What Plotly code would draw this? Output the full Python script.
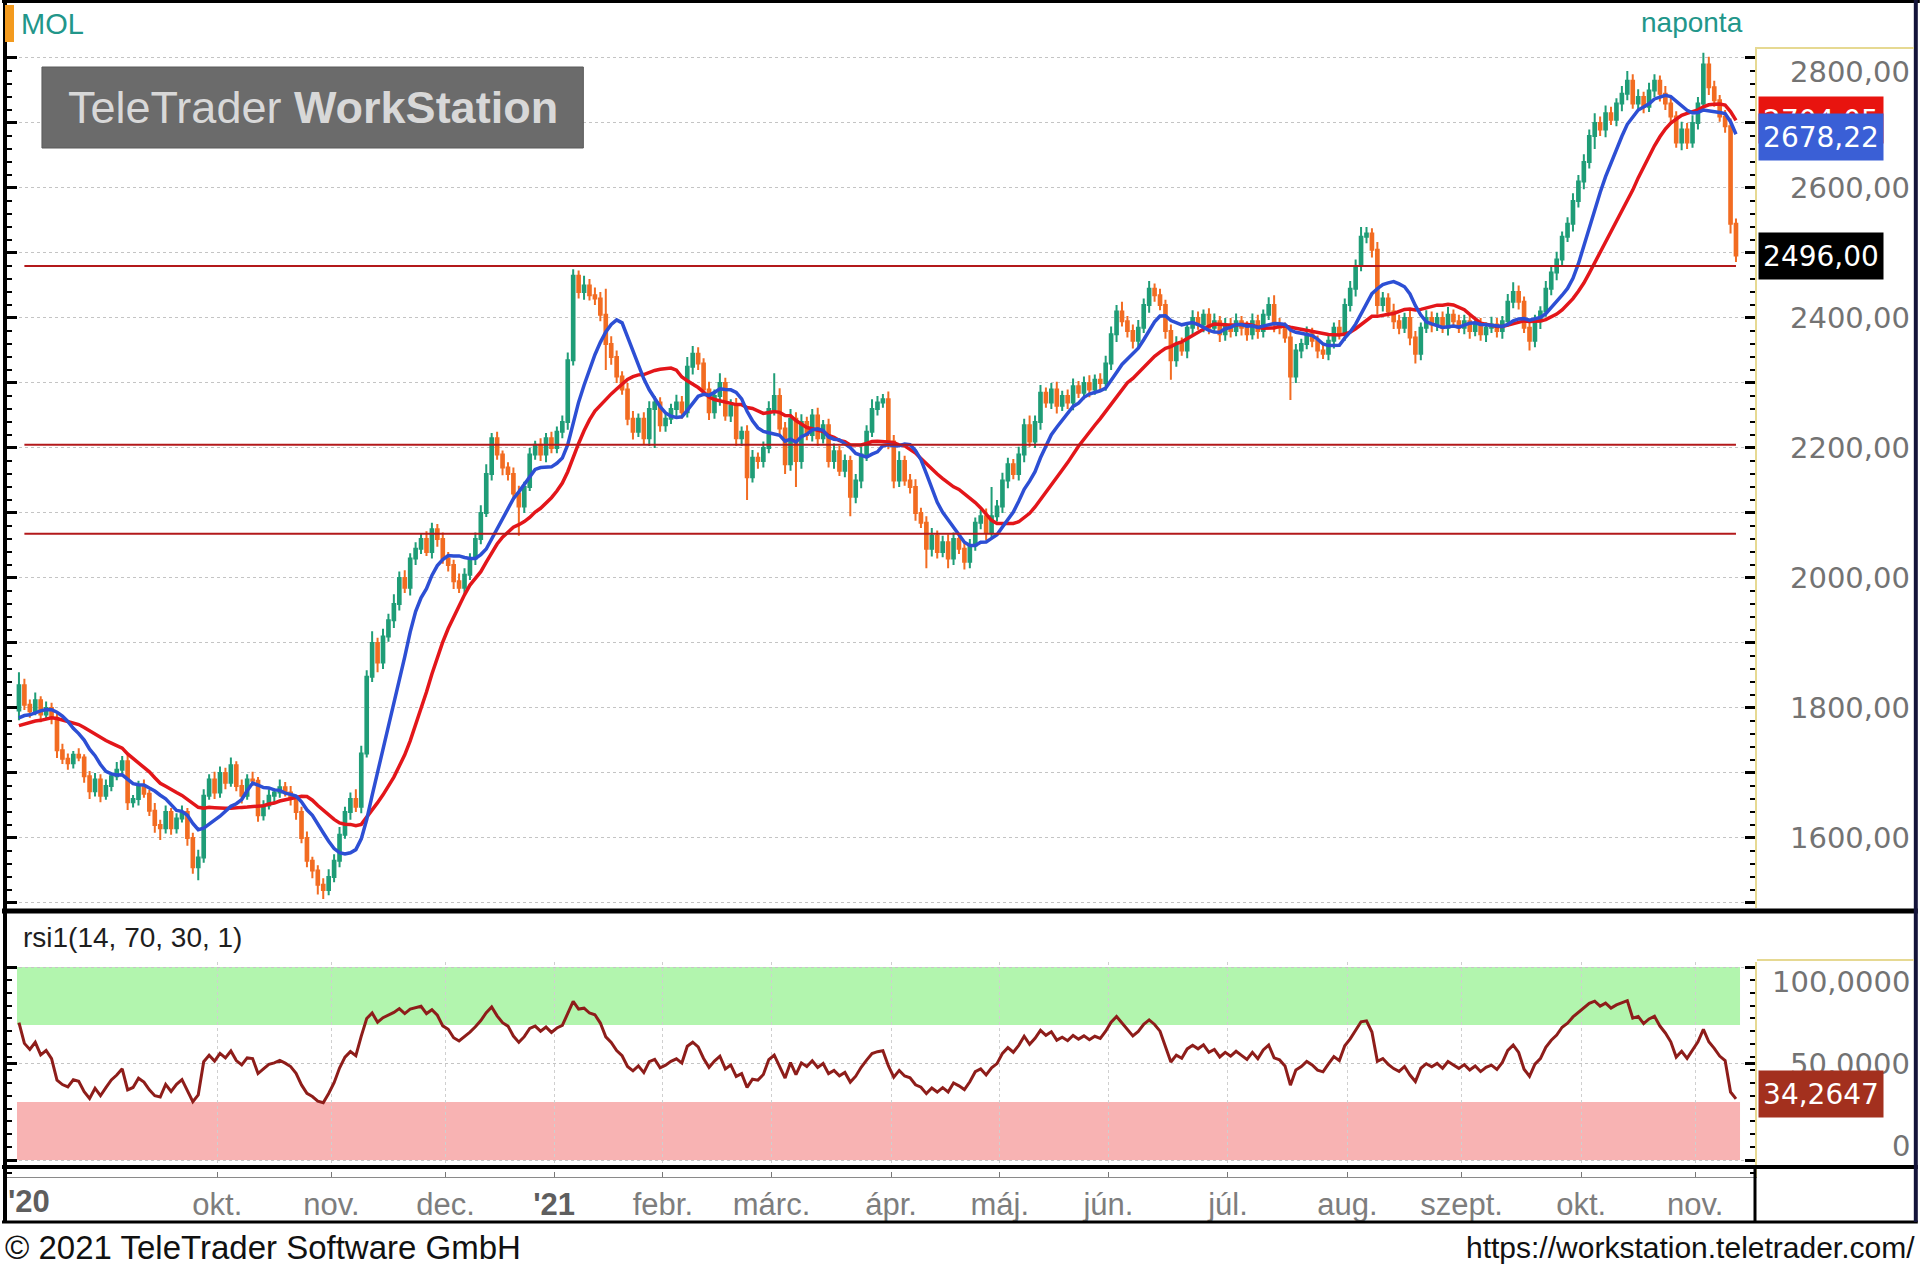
import numpy as np
import pandas as pd
import plotly.graph_objects as go

# ---------------- DATA ----------------
symbol = "MOL"
period_label = "naponta"
rsi_title = "rsi1(14, 70, 30, 1)"
start_date, end_date = "2020-08-10", "2021-11-11"
holidays = ["2020-08-20", "2020-10-23", "2020-12-24", "2020-12-25", "2020-12-31",
            "2021-01-01", "2021-03-15", "2021-04-02", "2021-04-05", "2021-05-24",
            "2021-08-20", "2021-11-01"]
first_labelled_month = "2020-10-01"
month_names = {2: "febr.", 3: "márc.", 4: "ápr.", 5: "máj.", 6: "jún.", 7: "júl.",
               8: "aug.", 9: "szept.", 10: "okt.", 11: "nov.", 12: "dec."}

# closes before the visible window (needed for moving averages / RSI warm-up)
pre_closes = [1745, 1758, 1750, 1762, 1771, 1760, 1748, 1755, 1768, 1776,
              1762, 1770, 1784, 1776, 1765, 1779, 1788, 1774, 1782, 1796]

close_aug20 = [1835, 1805, 1795, 1812, 1790, 1800, 1785, 1735, 1722, 1715, 1728, 1724, 1695, 1672, 1690]
close_sep20 = [1665, 1680, 1695, 1705, 1718, 1655, 1660, 1680, 1668, 1642, 1620, 1615, 1640, 1615, 1630,
               1640, 1600, 1555, 1570, 1665, 1690, 1670]
close_oct20 = [1700, 1685, 1712, 1680, 1665, 1690, 1688, 1635, 1650, 1665, 1670, 1678, 1670, 1660, 1640,
               1600, 1565, 1550, 1528, 1520, 1540]
close_nov20 = [1565, 1605, 1640, 1660, 1648, 1730, 1848, 1900, 1870, 1910, 1935, 1960, 2000, 1985, 2030,
               2045, 2060, 2040, 2075, 2060, 2030]
close_dec20 = [2020, 1995, 1985, 2005, 2030, 2060, 2100, 2160, 2215, 2190, 2170, 2160, 2130, 2110, 2140,
               2190, 2205, 2190, 2215, 2200]
close_jan21 = [2225, 2240, 2335, 2465, 2440, 2450, 2435, 2430, 2405, 2360, 2340, 2310, 2290, 2245, 2225,
               2245, 2215, 2260, 2270, 2235]
close_feb21 = [2245, 2260, 2270, 2255, 2325, 2345, 2330, 2290, 2255, 2280, 2300, 2250, 2265, 2215, 2225,
               2155, 2185, 2180, 2200, 2260]
close_mar21 = [2280, 2230, 2175, 2245, 2180, 2240, 2220, 2250, 2215, 2235, 2180, 2195, 2165, 2180, 2125,
               2150, 2190, 2225, 2260, 2270, 2275, 2210]
close_apr21 = [2150, 2180, 2150, 2140, 2100, 2085, 2045, 2065, 2040, 2055, 2030, 2060, 2045, 2025, 2050,
               2085, 2095, 2070, 2095, 2110]
close_may21 = [2150, 2175, 2160, 2190, 2235, 2210, 2240, 2285, 2270, 2290, 2265, 2280, 2270, 2295, 2285,
               2300, 2290, 2305, 2300, 2330]
close_jun21 = [2375, 2410, 2395, 2380, 2365, 2385, 2420, 2445, 2435, 2420, 2380, 2335, 2360, 2350, 2385,
               2400, 2390, 2405, 2385, 2395, 2375, 2390]
close_jul21 = [2380, 2395, 2385, 2375, 2395, 2380, 2405, 2420, 2390, 2385, 2370, 2310, 2350, 2360, 2375,
               2365, 2350, 2345, 2365, 2385, 2375, 2420]
close_aug21 = [2445, 2480, 2525, 2530, 2505, 2420, 2430, 2410, 2395, 2385, 2400, 2370, 2345, 2385, 2400,
               2390, 2400, 2385, 2405, 2395, 2385]
close_sep21 = [2395, 2380, 2390, 2375, 2385, 2390, 2380, 2395, 2425, 2440, 2425, 2385, 2365, 2395, 2410,
               2445, 2470, 2490, 2525, 2545, 2580, 2610]
close_oct21 = [2640, 2680, 2700, 2690, 2715, 2705, 2730, 2745, 2765, 2730, 2740, 2725, 2750, 2765, 2745,
               2730, 2710, 2670, 2690, 2670, 2700]
close_nov21 = [2730, 2790, 2755, 2735, 2710, 2695, 2545, 2496]

# wick lengths above / below the candle body
wick_up = [20, 10, 8, 12, 6, 10, 8, 6, 10, 8, 6, 10, 5, 8, 10,
           8, 10, 6, 12, 8, 10, 6, 8, 10, 6, 12, 8, 10, 6, 8, 10, 6, 8, 12, 10, 8, 12,
           10, 8, 12, 6, 10, 8, 12, 6, 8, 10, 6, 12, 8, 10, 6, 8, 10, 6, 8, 10, 12,
           10, 12, 8, 10, 15, 12, 10, 18, 8, 12, 10, 15, 10, 12, 8, 10, 8, 12, 10, 8, 10,
           10, 8, 12, 10, 8, 10, 12, 15, 8, 10, 6, 8, 10, 12, 8, 10, 6, 10, 8, 10,
           8, 10, 12, 10, 8, 15, 10, 12, 10, 40, 12, 10, 8, 10, 12, 8, 10, 12, 10, 8,
           10, 8, 12, 10, 15, 12, 10, 8, 12, 10, 15, 8, 10, 12, 8, 10, 12, 8, 10, 12,
           35, 12, 10, 15, 10, 12, 8, 10, 12, 8, 10, 12, 8, 10, 8, 10, 12, 10, 15, 10, 8, 12,
           10, 15, 8, 10, 12, 8, 10, 12, 8, 10, 12, 10, 8, 12, 10, 8, 10, 12, 45, 10,
           12, 10, 8, 12, 10, 15, 10, 12, 8, 10, 12, 8, 10, 12, 8, 10, 12, 8, 10, 12,
           12, 10, 15, 8, 10, 12, 10, 12, 8, 10, 8, 10, 12, 10, 8, 12, 10, 8, 10, 12, 8, 10,
           10, 12, 8, 10, 12, 10, 8, 12, 15, 10, 8, 12, 10, 8, 12, 10, 8, 12, 10, 8, 12, 10,
           12, 10, 15, 10, 8, 12, 10, 8, 12, 10, 8, 12, 10, 8, 12, 10, 8, 10, 12, 8, 10,
           10, 8, 12, 10, 8, 12, 10, 8, 12, 15, 10, 8, 12, 10, 8, 12, 10, 12, 8, 10, 12, 10,
           12, 10, 15, 10, 12, 10, 8, 12, 15, 10, 12, 8, 12, 10, 8, 12, 10, 8, 12, 10, 12,
           10, 18, 12, 10, 8, 10, 12, 8]
wick_dn = [15, 8, 10, 6, 12, 8, 10, 12, 8, 10, 8, 6, 10, 12, 8,
           10, 6, 8, 6, 10, 12, 8, 10, 6, 8, 12, 18, 8, 10, 8, 6, 12, 10, 20, 8, 6, 10,
           8, 10, 6, 8, 12, 6, 8, 10, 8, 6, 10, 8, 6, 10, 12, 8, 10, 12, 15, 14, 8,
           8, 10, 6, 12, 8, 10, 6, 8, 15, 10, 8, 12, 10, 8, 12, 10, 8, 6, 10, 12, 8,
           10, 12, 8, 10, 8, 10, 8, 6, 10, 8, 12, 10, 10, 45, 10, 6, 8, 10, 12, 8,
           8, 10, 12, 8, 10, 12, 8, 10, 10, 40, 12, 10, 8, 10, 12, 8, 10, 12, 60, 10,
           10, 8, 12, 10, 8, 12, 10, 8, 12, 10, 15, 8, 10, 12, 12, 35, 8, 12, 10, 8,
           10, 12, 15, 10, 40, 12, 8, 10, 12, 8, 10, 12, 8, 10, 30, 10, 12, 10, 8, 10, 8, 12,
           12, 10, 8, 10, 12, 8, 30, 12, 10, 8, 15, 10, 8, 12, 10, 8, 10, 12, 10, 8,
           10, 12, 8, 10, 12, 8, 10, 12, 8, 10, 12, 8, 10, 12, 8, 10, 12, 8, 10, 12,
           10, 12, 8, 10, 12, 10, 8, 12, 10, 8, 12, 30, 10, 8, 12, 10, 8, 12, 10, 8, 12, 10,
           10, 8, 12, 10, 8, 12, 10, 8, 12, 10, 8, 36, 10, 12, 8, 10, 12, 8, 10, 12, 8, 10,
           10, 12, 8, 10, 12, 15, 10, 8, 12, 10, 8, 12, 15, 10, 8, 12, 10, 8, 12, 10, 8,
           10, 12, 8, 10, 12, 8, 10, 12, 8, 10, 12, 8, 15, 10, 12, 8, 10, 12, 10, 8, 12, 10,
           12, 10, 20, 10, 12, 8, 10, 12, 10, 8, 12, 10, 8, 10, 12, 10, 10, 8, 12, 10, 8,
           10, 8, 12, 10, 8, 10, 15, 10]

level_lines = [2480, 2205, 2068]          # horizontal support / resistance lines
fast_ma_period, slow_ma_period = 10, 20
rsi_period, rsi_upper, rsi_lower = 14, 70, 30
fast_ma_label = 2678.22                   # value shown in blue box
rsi_last_label = 34.2647                  # value shown in RSI box
price_labels = [1600, 1800, 2000, 2200, 2400, 2600, 2800]
rsi_labels = [0, 50, 100]

# ---------------- PREP ----------------
closes = (close_aug20 + close_sep20 + close_oct20 + close_nov20 + close_dec20 + close_jan21 +
          close_feb21 + close_mar21 + close_apr21 + close_may21 + close_jun21 + close_jul21 +
          close_aug21 + close_sep21 + close_oct21 + close_nov21)
days = pd.bdate_range(start_date, end_date)
days = days[~days.isin(pd.to_datetime(holidays))]
N = len(days)
assert len(closes) == N == len(wick_up) == len(wick_dn), (len(closes), N, len(wick_up), len(wick_dn))

c = np.array(closes, float)
o = np.r_[pre_closes[-1], c[:-1]]
h = np.maximum(o, c) + np.array(wick_up)
l = np.minimum(o, c) - np.array(wick_dn)
x = np.arange(N)

allc = pd.Series(pre_closes + closes, dtype=float)
ma_fast = allc.rolling(fast_ma_period).mean().values[-N:]
ma_slow = allc.rolling(slow_ma_period).mean().values[-N:]


def wilder_rsi(vals, n):
    vals = np.asarray(vals, float)
    d = np.diff(vals)
    g = np.where(d > 0, d, 0.0)
    ls = np.where(d < 0, -d, 0.0)
    ag, al = g[:n].mean(), ls[:n].mean()
    out = np.full(len(vals), np.nan)
    out[n] = 100 - 100 / (1 + ag / al) if al > 0 else 100
    for k in range(n, len(d)):
        ag = (ag * (n - 1) + g[k]) / n
        al = (al * (n - 1) + ls[k]) / n
        out[k + 1] = 100 - 100 / (1 + ag / al) if al > 0 else 100
    return out


rsi = wilder_rsi(pre_closes + closes, rsi_period)[-N:]

# month ticks
tick_pos, tick_txt = [], []
for k in range(1, N):
    if days[k].month != days[k - 1].month and days[k] >= pd.Timestamp(first_labelled_month):
        tick_pos.append(k - 0.5)
        if days[k].month == 1:
            tick_txt.append("<b><span style='color:#5e5e5e'>'%02d</span></b>" % (days[k].year % 100))
        else:
            tick_txt.append(month_names[days[k].month])

# ---------------- GEOMETRY (pixels) ----------------
W, H = 1920, 1272
ML, MR, MT, MB = 5, 165, 47, 95
PW, PH = W - ML - MR, H - MT - MB


def px(X):
    return (X - ML) / PW


def py(Y):
    return (H - MB - Y) / PH


UP, DN = "#1f9d77", "#f26c22"
BLUE, RED = "#2d4fd4", "#e3161a"
GRAY_LBL = "#737373"
AXF = "DejaVu Sans"
TXF = "Liberation Sans, Arial, sans-serif"

fig = go.Figure()
fig.add_trace(go.Candlestick(
    x=x, open=o, high=h, low=l, close=c, xaxis="x2", yaxis="y",
    increasing=dict(line=dict(color=UP, width=2), fillcolor=UP),
    decreasing=dict(line=dict(color=DN, width=2), fillcolor=DN),
    whiskerwidth=0, showlegend=False, hoverinfo="skip"))
fig.add_trace(go.Scatter(x=x, y=ma_slow, xaxis="x2", yaxis="y", mode="lines",
                         line=dict(color=RED, width=3.5), showlegend=False, hoverinfo="skip"))
fig.add_trace(go.Scatter(x=x, y=ma_fast, xaxis="x2", yaxis="y", mode="lines",
                         line=dict(color=BLUE, width=3.5), showlegend=False, hoverinfo="skip"))
fig.add_trace(go.Scatter(x=x, y=rsi, xaxis="x", yaxis="y2", mode="lines",
                         line=dict(color="#8e1d1a", width=3), showlegend=False, hoverinfo="skip"))

xr = [-2.2, 319.5]
shapes = []
# RSI zones
shapes.append(dict(type="rect", xref="paper", yref="y2", x0=px(15), x1=px(1740), y0=rsi_upper, y1=100,
                   fillcolor="#b2f5ae", line_width=0, layer="below"))
shapes.append(dict(type="rect", xref="paper", yref="y2", x0=px(15), x1=px(1740), y0=0, y1=rsi_lower,
                   fillcolor="#f8b3b3", line_width=0, layer="below"))
# level lines
for lv in level_lines:
    shapes.append(dict(type="line", xref="x2", yref="y", x0=x[1], x1=x[-1], y0=lv, y1=lv,
                       line=dict(color="#b3191b", width=2)))


def hline(Y, X0, X1, color="black", w=3):
    shapes.append(dict(type="line", xref="paper", yref="paper", x0=px(X0), x1=px(X1), y0=py(Y), y1=py(Y),
                       line=dict(color=color, width=w), layer="above"))


def vline(X, Y0, Y1, color="black", w=3):
    shapes.append(dict(type="line", xref="paper", yref="paper", x0=px(X), x1=px(X), y0=py(Y0), y1=py(Y1),
                       line=dict(color=color, width=w), layer="above"))


hline(1.5, 0, 1920, w=3)
hline(911, 0, 1918, w=5)
hline(1167, 0, 1918, w=4)
hline(1222, 0, 1918, w=3)
vline(3, 0, 1222, w=4)
vline(1916, 0, 1222, color="#14143a", w=4)
vline(1755, 1167, 1222, w=3)
hline(48, 1757, 1914, color="#e6d992", w=2)
hline(960, 1757, 1914, color="#e6d992", w=2)
# header marker + watermark
shapes.append(dict(type="rect", xref="paper", yref="paper", x0=px(3), x1=px(12), y0=py(42), y1=py(5),
                   fillcolor="#f39a1e", line_width=0, layer="above"))
shapes.append(dict(type="rect", xref="paper", yref="paper", x0=px(40), x1=px(582), y0=py(148), y1=py(67),
                   fillcolor="#6b6b6b", line=dict(color="#5a5a5a", width=1), layer="above"))

ann = []
ann.append(dict(text=symbol, xref="paper", yref="paper", x=px(17), y=py(24), xanchor="left", yanchor="middle",
                showarrow=False, font=dict(family=TXF, size=29, color="#22968a")))
ann.append(dict(text=period_label, xref="paper", yref="paper", x=px(1745), y=py(22), xanchor="right",
                yanchor="middle", showarrow=False, font=dict(family=TXF, size=28, color="#22968a")))
ann.append(dict(text="TeleTrader <b>WorkStation</b>", xref="paper", yref="paper", x=px(311), y=py(108),
                xanchor="center", yanchor="middle", showarrow=False,
                font=dict(family=TXF, size=45, color="#d8d8d8")))
ann.append(dict(text=rsi_title, xref="paper", yref="paper", x=px(19), y=py(937), xanchor="left",
                yanchor="middle", showarrow=False, font=dict(family=TXF, size=28, color="#1e1e1e")))
ann.append(dict(text="<b>'%02d</b>" % (days[0].year % 100), xref="paper", yref="paper", x=px(27), y=py(1201),
                xanchor="center", yanchor="middle", showarrow=False, font=dict(family=TXF, size=31, color="#5e5e5e")))
ann.append(dict(text="© 2021 TeleTrader Software GmbH", xref="paper", yref="paper", x=px(1), y=py(1247),
                xanchor="left", yanchor="middle", showarrow=False, font=dict(family=TXF, size=33, color="#111")))
ann.append(dict(text="https://workstation.teletrader.com/", xref="paper", yref="paper", x=px(1917), y=py(1247),
                xanchor="right", yanchor="middle", showarrow=False, font=dict(family=TXF, size=30, color="#111")))

LBL_X = px(1912)
for v in price_labels:
    ann.append(dict(text=f"{v:.2f}".replace(".", ","), xref="paper", yref="y", x=LBL_X, y=v,
                    xanchor="right", yanchor="middle", showarrow=False, yshift=-14 if v == max(price_labels) else 0,
                    font=dict(family=AXF, size=29, color=GRAY_LBL)))
for v in rsi_labels:
    txt = "0" if v == 0 else f"{v:.4f}".replace(".", ",")
    ys = -15 if v == 100 else (14 if v == 0 else 0)
    ann.append(dict(text=txt, xref="paper", yref="y2", x=LBL_X, y=v, xanchor="right", yanchor="middle",
                    showarrow=False, yshift=ys, font=dict(family=AXF, size=29, color=GRAY_LBL)))


def value_box(val, txt, bg, yref):
    ann.append(dict(text=txt, xref="paper", yref=yref, x=px(1758), y=val, xanchor="left", yanchor="middle",
                    showarrow=False, bgcolor=bg, width=122, height=44, borderpad=1, align="center",
                    font=dict(family=AXF, size=28, color="white")))


value_box(ma_slow[-1], f"{ma_slow[-1]:.2f}".replace(".", ","), "#e8140f", "y")
value_box(fast_ma_label, f"{fast_ma_label:.2f}".replace(".", ","), "#3a5fd6", "y")
value_box(c[-1], f"{c[-1]:.2f}".replace(".", ","), "#000000", "y")
value_box(rsi_last_label, f"{rsi_last_label:.4f}".replace(".", ","), "#a3301e", "y2")

fig.update_layout(
    width=W, height=H, margin=dict(l=ML, r=MR, t=MT, b=MB),
    paper_bgcolor="white", plot_bgcolor="white", showlegend=False,
    xaxis=dict(domain=[0, 1], anchor="y2", range=xr, tickmode="array", tickvals=tick_pos, ticktext=tick_txt,
               ticks="inside", ticklen=5, tickcolor="#777", tickwidth=1, showline=True, linecolor="#8a8a8a",
               linewidth=1, showgrid=True, gridcolor="#cfcfcf", griddash="dot", gridwidth=1, zeroline=False,
               tickfont=dict(family=TXF, size=31, color="#7d7d7d"), rangeslider=dict(visible=False)),
    xaxis2=dict(domain=[0, 1], anchor="y", matches="x", range=xr, showticklabels=False, ticks="",
                showgrid=False, zeroline=False, showline=False, rangeslider=dict(visible=False)),
    yaxis=dict(domain=[py(908), 1], anchor="x2", range=[1492.3, 2816.9], side="right",
               showticklabels=False, tickmode="linear", tick0=0, dtick=100, ticks="inside", ticklen=10,
               tickwidth=3, tickcolor="black", showgrid=True, gridcolor="#c4c4c4", griddash="dot",
               gridwidth=1, zeroline=False, showline=True, linecolor="#e6d992", linewidth=2,
               mirror="allticks",
               minor=dict(dtick=20, tick0=0, ticks="inside", ticklen=5, tickwidth=2, tickcolor="black",
                          showgrid=False)),
    yaxis2=dict(domain=[0, py(962)], anchor="x", range=[-8.8, 102.6], side="right",
                showticklabels=False, tickmode="linear", tick0=0, dtick=50, ticks="inside", ticklen=10,
                tickwidth=3, tickcolor="black", showgrid=True, gridcolor="#c4c4c4", griddash="dot",
                gridwidth=1, zeroline=False, showline=True, linecolor="#e6d992", linewidth=2,
                mirror="allticks",
                minor=dict(dtick=100 / 15, tick0=0, ticks="inside", ticklen=5, tickwidth=2, tickcolor="black",
                           showgrid=False)),
    shapes=shapes, annotations=ann,
)

fig.write_html("out.html")
